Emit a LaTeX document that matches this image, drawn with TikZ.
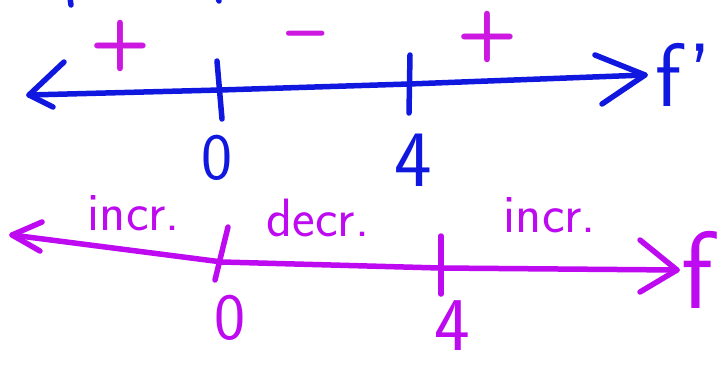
\documentclass[tikz,border=0pt]{standalone}
\usetikzlibrary{positioning}
\definecolor{penblue}{RGB}{16,24,224}
\definecolor{penpink}{RGB}{204,24,224}
\definecolor{penviolet}{RGB}{190,10,240}
\tikzset{
  stroke/.style={line width=5.5pt, line cap=round, line join=round},
  hand/.style={font=\sffamily\fontsize{54}{54}\selectfont, inner sep=0pt},
  digit/.style={font=\sffamily\fontsize{66}{66}\selectfont, inner sep=0pt},
  sign/.style={font=\sffamily\bfseries\fontsize{70}{70}\selectfont, inner sep=0pt}
}

\begin{document}
\begin{tikzpicture}[x=1pt,y=-1pt]
	\useasboundingbox[fill=white] (0,0) rectangle (724,365);
	
	% derivative line f'
	\coordinate (L1) at (29,95);
	\coordinate (Z1) at (220,90);
	\coordinate (F1) at (409,84);
	\coordinate (R1) at (645,75);
	\draw[stroke, penblue] (L1) -- (Z1) -- (F1) -- (R1);
	\draw[stroke, penblue] (L1) ++(35,-33) -- (L1) -- ++(24,12);
	\draw[stroke, penblue] (R1) ++(-50,-20) -- (R1) -- ++(-43,29);
	\draw[stroke, penblue] (Z1) ++(-3,-29) -- ++(5,58);
	\draw[stroke, penblue] (F1) ++(1,-29) -- ++(-1,58);
	
	% cut-off strokes at the top
	\draw[stroke, penblue] (70,-2) -- (71,5);
	\draw[stroke, penblue] (218,-2) -- (219,1);
	
	% labels of f'
	\node[digit, penblue, below=45pt of Z1, xshift=-3pt] (zeroA) {0};
	\node[digit, penblue, below=50pt of F1, xshift=4pt, font=\sffamily\fontsize{80}{80}\selectfont] (fourA) {4};
	\node[hand, penblue, right=10pt of R1, font=\sffamily\fontsize{90}{90}\selectfont] (fprime) {f'};
	\node[sign, penpink] (plusA) at (120,46) {+};
	\node[sign, penpink] (minusA) at (306,42) {--};
	\node[sign, penpink] (plusB) at (487,37) {+};
	
	% function line f
	\coordinate (L2) at (12,235);
	\coordinate (Z2) at (222,262);
	\coordinate (F2) at (440,268);
	\coordinate (R2) at (677,270);
	\draw[stroke, penviolet] (L2) -- (Z2) -- (F2) -- (R2);
	\draw[stroke, penviolet] (L2) ++(30,-13) -- (L2) -- ++(28,16);
	\draw[stroke, penviolet] (R2) ++(-37,-30) -- (R2) -- ++(-37,22);
	\draw[stroke, penviolet] (Z2) ++(6,-35) -- ++(-13,53);
	\draw[stroke, penviolet] (F2) ++(1,-32) -- ++(0,58);
	
	% labels of f
	\node[hand, penviolet] (incrA) at (134,213) {incr.};
	\node[hand, penviolet] (decr) at (318,218) {decr.};
	\node[hand, penviolet] (incrB) at (550,215) {incr.};
	\node[digit, penviolet, below=33pt of Z2, xshift=8pt] (zeroB) {0};
	\node[digit, penviolet, below=32pt of F2, xshift=12pt, font=\sffamily\fontsize{76}{76}\selectfont] (fourB) {4};
	\node[hand, penviolet, right=4pt of R2, font=\sffamily\fontsize{110}{110}\selectfont] (fname) {f};
\end{tikzpicture}
\end{document}
